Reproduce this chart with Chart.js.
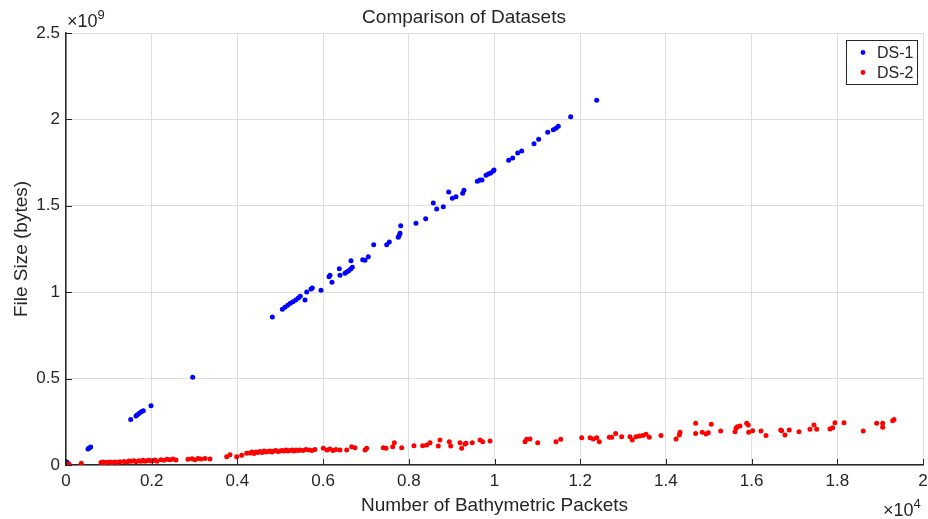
<!DOCTYPE html>
<html>
<head>
<meta charset="utf-8">
<title>Comparison of Datasets</title>
<script src="https://cdn.jsdelivr.net/npm/chart.js@4.4.1/dist/chart.umd.min.js"></script>
<style>
  html, body { margin: 0; padding: 0; background: #fff; }
  canvas { display: block; }
</style>
</head>
<body>
<canvas id="myChart" width="928" height="519"></canvas>
<script>
// packets on x, file size on y (sizes in units of 1e9 bytes)
const ds1Packets = [20, 513, 544, 576, 1510, 1634, 1664, 1711, 1757, 1804, 1984, 2957,
    4815, 5049, 5110, 5174, 5235, 5297, 5361, 5421, 5468, 5578, 5617, 5718, 5748, 5951,
    6138, 6161, 6207, 6378, 6394, 6511, 6551, 6597, 6644, 6682, 6651, 6924, 6978, 7055,
    7181, 7484, 7545, 7755, 7778, 7795, 7811, 8168, 8394, 8572, 8651, 8805, 8931, 9015,
    9101, 9258, 9288, 9599, 9662, 9708, 9802, 9855, 9911, 9972, 9988, 10331, 10425,
    10541, 10635, 10922, 11031, 11242, 11372, 11435, 11489, 11778, 12385];
const ds1Size = [0.017, 0.093, 0.098, 0.104, 0.264, 0.284, 0.291, 0.299, 0.308, 0.314, 0.343, 0.508,
    0.856, 0.901, 0.913, 0.924, 0.936, 0.945, 0.955, 0.966, 0.976, 0.955, 1.001, 1.019, 1.024, 1.011,
    1.090, 1.098, 1.057, 1.136, 1.098, 1.109, 1.117, 1.124, 1.134, 1.144, 1.182, 1.188, 1.185, 1.205,
    1.275, 1.275, 1.291, 1.318, 1.329, 1.341, 1.385, 1.399, 1.425, 1.516, 1.481, 1.495, 1.580, 1.543,
    1.553, 1.572, 1.590, 1.642, 1.649, 1.649, 1.677, 1.684, 1.690, 1.701, 1.707, 1.763, 1.777,
    1.806, 1.817, 1.859, 1.885, 1.925, 1.940, 1.949, 1.960, 2.016, 2.111];

const ds2Packets = [70, 357, 817, 863, 910, 957, 1027, 1073, 1144, 1214, 1260,
    1354, 1424, 1470, 1517, 1587, 1634, 1704, 1750, 1797, 1844, 1890, 1937, 1984, 2030, 2077, 2124,
    2217, 2287, 2357, 2427, 2497, 2567, 2847, 2940, 3010, 3080, 3150, 3244, 3360,
    3750, 3827, 3984, 4100, 4217,
    4294, 4341, 4387, 4434, 4481, 4527, 4574, 4621, 4667, 4714, 4761, 4807, 4854, 4901, 4947,
    4994, 5041, 5087, 5134, 5181, 5227, 5274, 5321, 5367, 5414, 5461, 5531, 5601, 5671, 5741, 5811,
    6005, 6091, 6161, 6231, 6301, 6394, 6551, 6667, 6744, 6978, 7017, 7405, 7468, 7624, 7662,
    7834, 8121, 8324, 8418, 8495, 8688, 8728, 8945, 8978, 9195, 9234, 9311, 9335, 9482, 9662,
    9725, 9895, 10712, 10751, 10828, 11008, 11435, 11545, 12035, 12229, 12306, 12385, 12446,
    12679, 12735, 12828, 12968, 13162, 13216, 13302, 13379, 13458, 13535, 13612, 13885, 14236,
    14313, 14329, 14695, 14695, 14849, 14936, 14989, 15059, 15279, 15612, 15636, 15666, 15729,
    15885, 15923, 15932, 16025, 16219, 16336, 16679, 16702, 16779, 16879, 17106, 17362, 17456,
    17519, 17830, 17893, 17946, 18156, 18606, 18919, 19059, 19059, 19292, 19323];
const ds2Size = [0.006, 0.010, 0.015, 0.017, 0.013, 0.016, 0.018, 0.014, 0.017, 0.015, 0.019,
    0.020, 0.017, 0.023, 0.021, 0.025, 0.019, 0.024, 0.022, 0.027, 0.021, 0.025, 0.028, 0.023, 0.026, 0.029, 0.022,
    0.031, 0.028, 0.033, 0.030, 0.034, 0.029, 0.033, 0.036, 0.031, 0.037, 0.035, 0.038, 0.034,
    0.048, 0.060, 0.048, 0.056, 0.068,
    0.069, 0.075, 0.067, 0.075, 0.072, 0.078, 0.072, 0.081, 0.075, 0.078, 0.081, 0.075, 0.081, 0.084, 0.078,
    0.081, 0.084, 0.081, 0.087, 0.081, 0.084, 0.087, 0.081, 0.087, 0.084, 0.087, 0.084, 0.090, 0.087, 0.084, 0.090,
    0.097, 0.087, 0.093, 0.084, 0.090, 0.087, 0.087, 0.106, 0.100, 0.087, 0.097, 0.100, 0.097, 0.106, 0.129,
    0.100, 0.112, 0.112, 0.116, 0.129, 0.110, 0.145, 0.135, 0.110, 0.129, 0.097, 0.122, 0.126, 0.129, 0.145,
    0.135, 0.139, 0.135, 0.149, 0.150, 0.129, 0.135, 0.149, 0.158, 0.158, 0.150, 0.158, 0.135,
    0.160, 0.160, 0.183, 0.164, 0.164, 0.145, 0.164, 0.168, 0.170, 0.178, 0.160, 0.170, 0.150,
    0.174, 0.189, 0.241, 0.183, 0.189, 0.179, 0.187, 0.236, 0.197, 0.193, 0.212, 0.222, 0.226,
    0.241, 0.231, 0.189, 0.198, 0.197, 0.170, 0.203, 0.198, 0.174, 0.203, 0.193, 0.207, 0.231,
    0.207, 0.208, 0.216, 0.245, 0.245, 0.197, 0.241, 0.241, 0.218, 0.256, 0.264];

const xTickStep = 2000, xMax = 20000;
const yTickStep = 0.5e9, yMax = 2.5e9;

const FONT = "'Liberation Sans', Arial, Helvetica, sans-serif";
const INK = '#262626';
const GRID = '#dedede';

const toPoints = (xs, ys) => xs.map((x, i) => ({ x: x, y: ys[i] * 1e9 }));

// short tick marks pointing into the plot
const innerTicks = {
    id: 'innerTicks',
    afterDraw(chart) {
        const { ctx, chartArea: a, scales: { x, y } } = chart;
        ctx.save();
        ctx.strokeStyle = INK;
        ctx.lineWidth = 1;
        ctx.beginPath();
        x.ticks.forEach(t => {
            const px = Math.round(x.getPixelForValue(t.value)) + 0.5;
            ctx.moveTo(px, a.bottom);
            ctx.lineTo(px, a.bottom - 6);
        });
        y.ticks.forEach(t => {
            const py = Math.round(y.getPixelForValue(t.value)) + 0.5;
            ctx.moveTo(a.left, py);
            ctx.lineTo(a.left + 6, py);
        });
        ctx.stroke();
        ctx.restore();
    }
};

function drawPower(ctx, x, y, exp) {
    ctx.font = `18px ${FONT}`;
    ctx.fillText('\u00d710', x, y);
    const w = ctx.measureText('\u00d710').width;
    ctx.font = `13px ${FONT}`;
    ctx.fillText(exp, x + w, y - 8);
}

// x10^n multipliers at the ends of the axes
const exponents = {
    id: 'exponents',
    afterDraw(chart) {
        const { ctx, chartArea: a } = chart;
        ctx.save();
        ctx.fillStyle = INK;
        ctx.textAlign = 'left';
        ctx.textBaseline = 'alphabetic';
        drawPower(ctx, a.left + 1, a.top - 6, '9');
        drawPower(ctx, a.right - 40, chart.height - 3, '4');
        ctx.restore();
    }
};

// legend inside the top right corner, boxed
const boxLegend = {
    id: 'boxLegend',
    afterDraw(chart) {
        const { ctx, chartArea: a } = chart;
        const left = a.right - 77, top = a.top + 7, w = 71, h = 44;
        ctx.save();
        ctx.fillStyle = '#fff';
        ctx.fillRect(left, top, w, h);
        ctx.strokeStyle = INK;
        ctx.lineWidth = 1;
        ctx.strokeRect(Math.round(left) + 0.5, Math.round(top) + 0.5, w, h);
        ctx.font = `16px ${FONT}`;
        ctx.textBaseline = 'middle';
        ctx.textAlign = 'left';
        chart.data.datasets.forEach((ds, i) => {
            const cy = top + 12.5 + i * 20;
            ctx.fillStyle = ds.backgroundColor;
            ctx.beginPath();
            ctx.arc(left + 17, cy, 2.4, 0, Math.PI * 2);
            ctx.fill();
            ctx.fillStyle = INK;
            ctx.fillText(ds.label, left + 31, cy + 1);
        });
        ctx.restore();
    }
};

const ctx = document.getElementById('myChart');

new Chart(ctx, {
    type: 'scatter',
    data: {
        datasets: [{
            label: 'DS-1',
            data: toPoints(ds1Packets, ds1Size),
            backgroundColor: '#0000ff',
            borderWidth: 0,
            pointRadius: 2.5,
            order: 1
        }, {
            label: 'DS-2',
            data: toPoints(ds2Packets, ds2Size),
            backgroundColor: '#ff0000',
            borderWidth: 0,
            pointRadius: 2.5,
            order: 0
        }]
    },
    options: {
        responsive: false,
        animation: false,
        layout: { padding: 0 },
        plugins: {
            legend: { display: false },
            tooltip: { enabled: false },
            title: {
                display: true,
                text: 'Comparison of Datasets',
                color: INK,
                font: { family: FONT, size: 19, weight: 'normal' },
                padding: { top: 6.4, bottom: 3.8 }
            }
        },
        scales: {
            x: {
                type: 'linear',
                min: 0,
                max: xMax,
                afterFit: s => {
                    s.height = 54;
                    s.paddingRight = 5;
                },
                ticks: {
                    stepSize: xTickStep,
                    padding: 6,
                    color: INK,
                    font: { family: FONT, size: 17 },
                    maxRotation: 0,
                    callback: v => String(parseFloat((v / 1e4).toFixed(1)))
                },
                grid: { color: GRID, lineWidth: 1, drawTicks: false },
                border: { color: INK, width: 1.5 },
                title: {
                    display: true,
                    text: 'Number of Bathymetric Packets',
                    color: INK,
                    font: { family: FONT, size: 19 },
                    padding: { top: 0, bottom: 1.5 }
                }
            },
            y: {
                type: 'linear',
                min: 0,
                max: yMax,
                afterFit: s => { s.width = 66; },
                ticks: {
                    stepSize: yTickStep,
                    padding: 6,
                    color: INK,
                    font: { family: FONT, size: 17 },
                    callback: v => String(parseFloat((v / 1e9).toFixed(1)))
                },
                grid: { color: GRID, lineWidth: 1, drawTicks: false },
                border: { color: INK, width: 1.5 },
                title: {
                    display: true,
                    text: 'File Size (bytes)',
                    color: INK,
                    font: { family: FONT, size: 19 },
                    padding: { top: 10, bottom: 0 }
                }
            }
        }
    },
    plugins: [innerTicks, exponents, boxLegend]
});
</script>
</body>
</html>
